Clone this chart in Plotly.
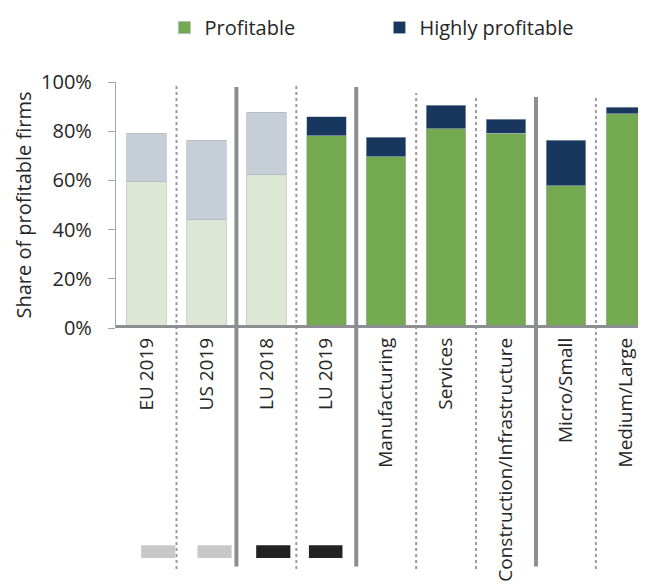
import plotly.graph_objects as go

# Data (shares, %)
categories = ["EU 2019", "US 2019", "LU 2018", "LU 2019", "Manufacturing",
              "Services", "Construction/Infrastructure", "Micro/Small", "Medium/Large"]
profitable = [59.5, 44.0, 62.2, 78.2, 69.6, 80.9, 79.1, 57.9, 87.1]
highly_profitable = [19.7, 32.3, 25.6, 7.6, 7.9, 9.6, 5.7, 18.4, 2.7]
n_light = 3  # first bars drawn in pale colours

GREEN = "#73aa4f"
NAVY = "#18375f"
PALE_GREEN = "#dce8d4"
PALE_BLUE = "#c6ced8"
AXIS_GREY = "#8c8e90"
FONT = "Open Sans"

x_idx = list(range(len(categories)))

fig = go.Figure()

edge = dict(color="#aab4be", width=0.6)
fig.add_trace(go.Bar(x=x_idx[:n_light], y=profitable[:n_light], marker=dict(color=PALE_GREEN, line=edge),
                     showlegend=False, name="Profitable"))
fig.add_trace(go.Bar(x=x_idx[n_light:], y=profitable[n_light:], marker=dict(color=GREEN, line=edge),
                     name="Profitable"))
fig.add_trace(go.Bar(x=x_idx[:n_light], y=highly_profitable[:n_light], marker=dict(color=PALE_BLUE, line=edge),
                     showlegend=False, name="Highly profitable"))
fig.add_trace(go.Bar(x=x_idx[n_light:], y=highly_profitable[n_light:], marker=dict(color=NAVY, line=edge),
                     name="Highly profitable"))

# group separators: (after category index, style, top in paper units)
separators = [(0, "dot", 0.988), (1, "solid", 0.980), (2, "dot", 0.988), (3, "solid", 0.980),
              (4, "dot", 0.955), (5, "dot", 0.947), (6, "solid", 0.939), (7, "dot", 0.935)]
for i, style, top in separators:
    if style == "solid":
        line = dict(color=AXIS_GREY, width=4)
        bottom = -0.97
    else:
        line = dict(color="#9a9a9a", width=2, dash="dot")
        bottom = -0.98
    fig.add_shape(type="line", xref="x", yref="paper", x0=i + 0.5, x1=i + 0.5,
                  y0=bottom, y1=top, line=line, layer="below")

# thick base line
fig.add_shape(type="line", xref="paper", yref="y", x0=0, x1=1, y0=0, y1=0,
              line=dict(color=AXIS_GREY, width=6))

# small source markers under the first four bars
source_marks = [(-0.09, 0.48, "#c8c8c8"), (0.85, 1.42, "#c8c8c8"),
                (1.83, 2.40, "#222222"), (2.71, 3.27, "#222222")]
for x0, x1, col in source_marks:
    fig.add_shape(type="rect", xref="x", yref="paper", x0=x0, x1=x1, y0=-0.935, y1=-0.883,
                  line=dict(width=0), fillcolor=col)

fig.update_layout(
    width=646, height=588,
    margin=dict(l=108, r=0, t=74, b=268),
    barmode="stack", bargap=0.34,
    plot_bgcolor="white", paper_bgcolor="white",
    font=dict(family=FONT, size=20, color="#262626"),
    legend=dict(orientation="h", x=0.09, xanchor="left", y=1.0, yref="container", yanchor="top",
                font=dict(size=20, color="#262626"), traceorder="normal", entrywidth=170),
)
fig.update_xaxes(range=[-0.51, 8.47], tickmode="array", tickvals=x_idx, ticktext=categories,
                 tickangle=-90, showgrid=False, showline=False, ticks="", zeroline=False,
                 ticklabelstandoff=5, tickfont=dict(size=19))
fig.update_yaxes(range=[0, 100], tickvals=[0, 20, 40, 60, 80, 100],
                 ticktext=["0%", "20%", "40%", "60%", "80%", "100%"],
                 showgrid=False, zeroline=False, showline=True, linecolor="#a6a6a6", linewidth=1.2,
                 ticks="outside", ticklen=7, tickcolor="#a6a6a6", tickwidth=1.2,
                 ticklabelstandoff=12,
                 title=dict(text="Share of profitable firms", font=dict(size=20), standoff=4),
                 tickfont=dict(size=20))

fig.write_html("out.html")
